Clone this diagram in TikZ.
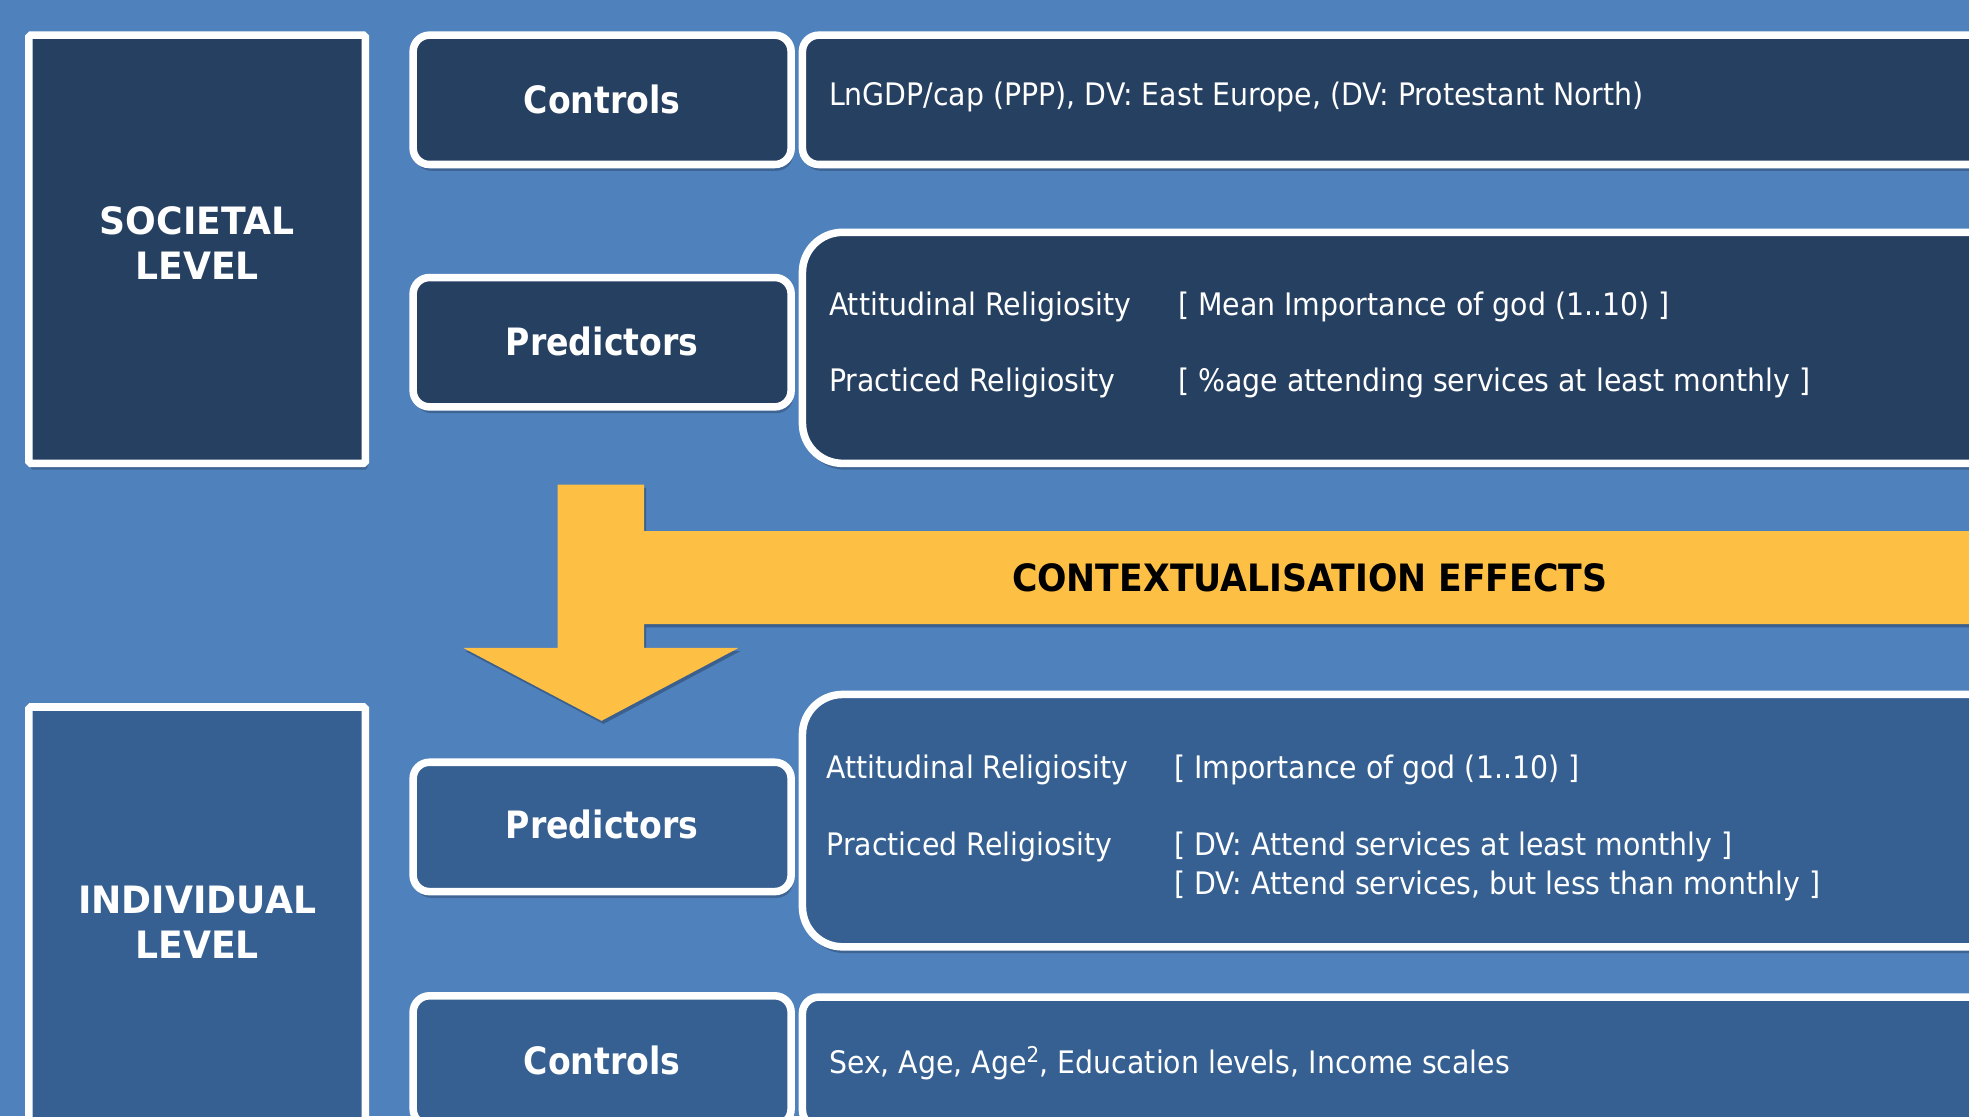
\documentclass[tikz,border=0pt]{standalone}
\usepackage{fontspec}
\setmainfont{DejaVu Sans}[FakeStretch=0.915, BoldFeatures={FakeStretch=0.88}]
\newfontfamily\levelfont{DejaVu Sans}[FakeStretch=0.96]
\newfontfamily\ctxfont{DejaVu Sans}[FakeStretch=0.92]
\usetikzlibrary{shadows}
\definecolor{bgblue}{HTML}{4F81BD}
\definecolor{topfill}{HTML}{264062}
\definecolor{botfill}{HTML}{366092}
\definecolor{arrowgold}{HTML}{FEC044}
\tikzset{
  panel/.style={draw=white, line width=6pt, anchor=north west, inner sep=0pt,
    drop shadow={shadow xshift=1.5pt, shadow yshift=-5pt, opacity=0.22, fill=black}},
  levelbox/.style={panel, rounded corners=1.5pt, minimum width=268pt},
  tagbox/.style={panel, rounded corners=13pt, minimum width=301pt, minimum height=103pt},
  infobox/.style={panel, rounded corners=13pt, minimum width=1000pt},
  bigbox/.style={panel, rounded corners=32pt, minimum width=1000pt},
  headtxt/.style={text=white, font=\bfseries\fontsize{30}{36}\selectfont, inner sep=0pt, align=center},
  leveltxt/.style={text=white, font=\levelfont\bfseries\fontsize{30}{36}\selectfont, inner sep=0pt, align=center},
  bodytxt/.style={text=white, font=\fontsize{24.7}{31}\selectfont, inner sep=0pt, anchor=base west, align=left}
}
\begin{document}
\begin{tikzpicture}[x=1pt,y=-1pt]
\useasboundingbox (0,0) rectangle (1568,889);
\clip (0,0) rectangle (1568,889);
\fill[bgblue] (0,0) rectangle (1568,889);

% societal level
\node[levelbox, fill=topfill, minimum height=341pt] (soc) at (20,25) {};
\node[leveltxt, anchor=north] (soct) at (157,164) {SOCIETAL\\LEVEL};
\node[tagbox, fill=topfill] (ctrlA) at (326,25) {};
\node[headtxt, anchor=base] (ctrlAt) at (479.5,90) {Controls};
\node[tagbox, fill=topfill] (predA) at (326,218) {};
\node[headtxt, anchor=base] (predAt) at (479.5,283) {Predictors};
\node[infobox, fill=topfill, minimum height=103pt] (ctrlAi) at (636,25) {};
\node[bodytxt] (ctrlAx) at (660,84) {LnGDP/cap (PPP), DV: East Europe, (DV: Protestant North)};
\node[bigbox, fill=topfill, minimum height=184pt] (predAi) at (636,182) {};
\node[bodytxt] (attA) at (660,251) {Attitudinal Religiosity};
\node[bodytxt] (attAv) at (938,251) {[ Mean Importance of god (1..10) ]};
\node[bodytxt] (praA) at (660,312) {Practiced Religiosity};
\node[bodytxt] (praAv) at (938,312) {[ \%age attending services at least monthly ]};

% arrow and band
\fill[arrowgold, drop shadow={shadow xshift=1.5pt, shadow yshift=-2.5pt, opacity=0.25, fill=black}]
  (444,386) -- (513,386) -- (513,423) -- (1600,423) -- (1600,497) -- (513,497)
  -- (513,516) -- (588,516) -- (479,574) -- (369,516) -- (444,516) -- cycle;
\node[font=\ctxfont\bfseries\fontsize{30}{36}\selectfont, text=black, inner sep=0pt, anchor=base] (ctx) at (1043,471) {CONTEXTUALISATION EFFECTS};

% individual level
\node[levelbox, fill=botfill, minimum height=400pt] (ind) at (20,560) {};
\node[leveltxt, anchor=north] (indt) at (157,705) {INDIVIDUAL\\LEVEL};
\node[tagbox, fill=botfill] (predB) at (326,604) {};
\node[headtxt, anchor=base] (predBt) at (479.5,668) {Predictors};
\node[bigbox, fill=botfill, minimum height=201pt] (predBi) at (636,550) {};
\node[bodytxt] (attB) at (658,620) {Attitudinal Religiosity};
\node[bodytxt] (attBv) at (935,620) {[ Importance of god (1..10) ]};
\node[bodytxt] (praB) at (658,681) {Practiced Religiosity};
\node[bodytxt] (praBv) at (935,712) {{[} DV: Attend services at least monthly ]\\{[} DV: Attend services, but less than monthly ]};
\node[tagbox, fill=botfill] (ctrlB) at (326,790) {};
\node[headtxt, anchor=base] (ctrlBt) at (479.5,856) {Controls};
\node[infobox, fill=botfill, minimum height=103pt] (ctrlBi) at (636,791) {};
\node[bodytxt] (ctrlBx) at (660,855) {Sex, Age, Age\textsuperscript{2}, Education levels, Income scales};
\end{tikzpicture}
\end{document}
